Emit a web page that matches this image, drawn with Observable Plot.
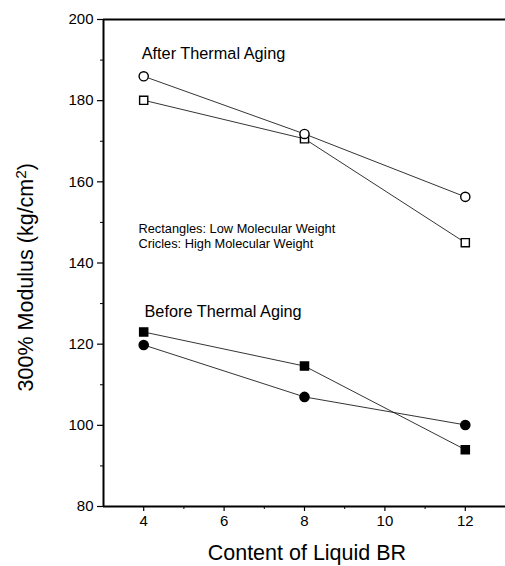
<!DOCTYPE html>
<html><head><meta charset="utf-8">
<script src="https://cdn.jsdelivr.net/npm/d3@7"></script>
<script src="https://cdn.jsdelivr.net/npm/@observablehq/plot@0.6"></script>
<style>body{margin:0;background:#fff}</style>
</head><body><div id="chart"></div>
<script>
const content = [4, 8, 12];
const afterLow = [180.1, 170.6, 145];
const afterHigh = [186, 171.8, 156.3];
const beforeLow = [123, 114.6, 94];
const beforeHigh = [119.8, 107, 100.1];
const yTicks = [80, 100, 120, 140, 160, 180, 200];
const yMinor = [90, 110, 130, 150, 170, 190];
const xTicks = [4, 6, 8, 10, 12];
const xMinor = [5, 7, 9, 11];
const xTitle = "Content of Liquid BR";
const yTitle = "300% Modulus (kg/cm2)";

const mk = (vals, group, shape, fill) => content.map((x, i) => ({x, y: vals[i], group, shape, fill}));
const series = [
  mk(afterLow, "afterLow", "square", "white"),
  mk(afterHigh, "afterHigh", "circle", "white"),
  mk(beforeLow, "beforeLow", "square", "black"),
  mk(beforeHigh, "beforeHigh", "circle", "black")
];
const all = series.flat();
const notes = [
  {x: 3.95, y: 191.6, text: "After Thermal Aging", size: 16.3},
  {x: 4.02, y: 127.9, text: "Before Thermal Aging", size: 16.3},
  {x: 3.87, y: 148.5, text: "Rectangles: Low Molecular Weight", size: 12.8},
  {x: 3.87, y: 144.8, text: "Cricles: High Molecular Weight", size: 12.8}
];

const font = "'Liberation Sans', Arial, sans-serif";
const chart = Plot.plot({
  width: 505, height: 566,
  marginLeft: 103, marginRight: 0, marginTop: 19, marginBottom: 60,
  style: {fontFamily: font, background: "white", color: "black"},
  x: {domain: [3, 13]},
  y: {domain: [80, 200]},
  marks: [
    Plot.axisY({ticks: yTicks, tickSize: 6, fontSize: 15, tickPadding: 4, label: null, stroke: "black", strokeWidth: 1.2}),
    Plot.axisY({ticks: yMinor, tickSize: 3, tickFormat: () => "", label: null, stroke: "black"}),
    Plot.axisX({ticks: xTicks, tickSize: 5, fontSize: 15, tickPadding: 4, label: null, stroke: "black", strokeWidth: 1.2}),
    Plot.axisX({ticks: xMinor, tickSize: 3, tickFormat: () => "", label: null, stroke: "black"}),
    Plot.ruleX([3], {stroke: "black", strokeWidth: 2}),
    Plot.ruleY([80], {stroke: "black", strokeWidth: 2}),
    Plot.ruleY([200], {stroke: "black", strokeWidth: 2}),
    ...series.map(s => Plot.line(s, {x: "x", y: "y", stroke: "black", strokeWidth: 0.8})),
    Plot.dot(all, {x: "x", y: "y", symbol: "shape", fill: "fill", stroke: "black", strokeWidth: 1.4, r: 4.6}),
    Plot.text(notes, {x: "x", y: "y", text: "text", fontSize: "size", textAnchor: "start", fill: "black"}),
    Plot.text([xTitle], {x: 8.06, y: 68.6, text: d => d, fontSize: 21.5, fill: "black", clip: false}),
    Plot.text([yTitle], {x: 1.08, y: 136.5, text: d => d, fontSize: 21.5, rotate: -90, fill: "black", clip: false})
  ]
});
// render the "2" of cm2 as a superscript
chart.querySelectorAll("text").forEach(t => {
  if (t.textContent === yTitle) {
    t.textContent = "";
    const ns = "http://www.w3.org/2000/svg";
    const a = document.createElementNS(ns, "tspan"); a.textContent = "300% Modulus (kg/cm";
    const b = document.createElementNS(ns, "tspan"); b.textContent = "2"; b.setAttribute("dy", "-0.45em"); b.setAttribute("font-size", "0.72em");
    const c = document.createElementNS(ns, "tspan"); c.textContent = ")"; c.setAttribute("dy", "0.32em");
    t.append(a, b, c);
  }
});
document.getElementById("chart").appendChild(chart);
</script>
</body></html>
